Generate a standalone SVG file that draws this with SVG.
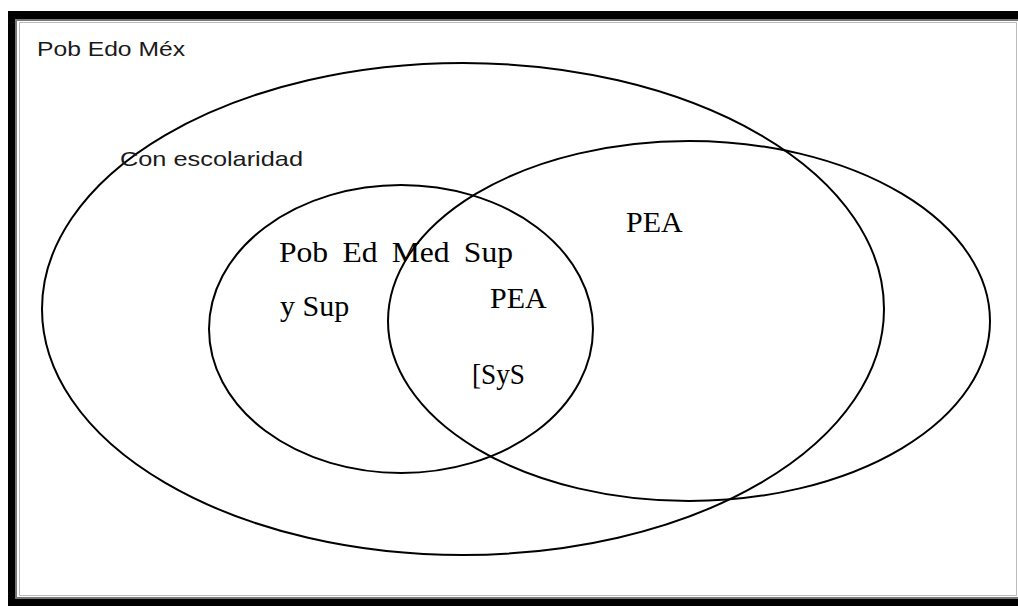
<svg xmlns="http://www.w3.org/2000/svg" width="1018" height="606" viewBox="0 0 1018 606">
<style>
.e{fill:none;stroke:#000;stroke-width:2}
.s{font-family:"Liberation Sans",Arial,sans-serif;font-size:21px;fill:#1a1a1a}
.t{font-family:"Liberation Serif","Times New Roman",serif;font-size:30px;fill:#000}
</style>
<rect width="1018" height="606" fill="#fff"/>
<g id="frame">
<rect x="8" y="11" width="1010" height="8" fill="#000"/>
<rect x="8" y="11" width="7" height="595" fill="#000"/>
<rect x="8" y="599" width="1010" height="7" fill="#000"/>
<rect x="15" y="19" width="1003" height="2" fill="#777"/>
<rect x="15" y="19" width="2" height="580" fill="#777"/>
<rect x="15" y="597" width="1003" height="2" fill="#777"/>
<path d="M19.5 22.5 H1016.5 V595.5 H19.5 Z" fill="none" stroke="#bbb" stroke-width="1"/>
</g>
<g id="label-pob-edo-mex"><text class="s" x="37" y="56" textLength="148" lengthAdjust="spacingAndGlyphs">Pob Edo Méx</text></g>
<g id="con-escolaridad">
<ellipse class="e" cx="463" cy="309" rx="421" ry="246"/>
<text class="s" x="120" y="166" textLength="183" lengthAdjust="spacingAndGlyphs">Con escolaridad</text>
</g>
<g id="pea">
<ellipse class="e" cx="689" cy="321" rx="301" ry="180"/>
<text class="t" x="626" y="232">PEA</text>
</g>
<g id="pob-ed-med-sup">
<ellipse class="e" cx="401" cy="329" rx="192" ry="144"/>
<text class="t" x="279" y="262" textLength="234" lengthAdjust="spacingAndGlyphs" word-spacing="6">Pob Ed Med Sup</text>
<text class="t" x="280" y="316">y Sup</text>
</g>
<g id="interseccion">
<text class="t" x="490" y="308">PEA</text>
<text class="t" x="472" y="384" textLength="53" lengthAdjust="spacingAndGlyphs">[SyS</text>
</g>
<g id="connectors"></g>
</svg>
